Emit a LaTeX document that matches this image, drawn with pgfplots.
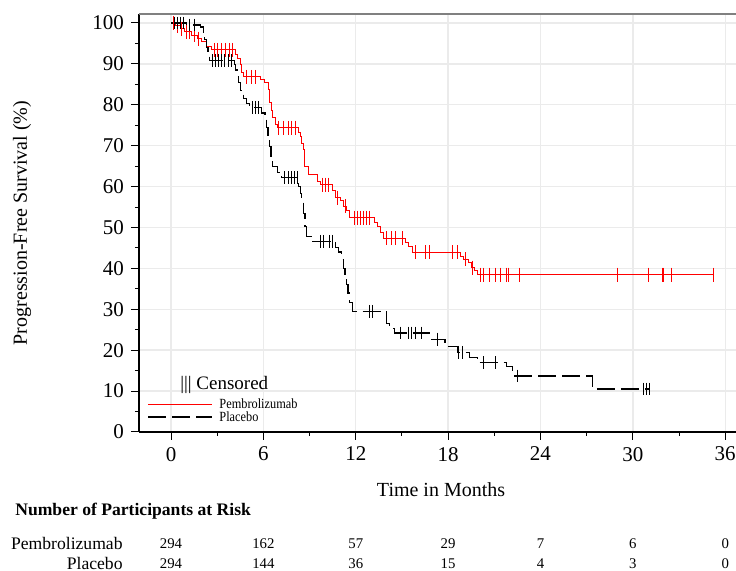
\documentclass[border=0pt]{standalone}
\usepackage{fontspec}
\setmainfont{Liberation Serif}
\usepackage{pgfplots}
\pgfplotsset{compat=1.18}

% Kaplan-Meier steps: (time, survival after the drop)
\pgfplotstableread{
t S
0 100
0.3 99.3
0.6 98.6
0.9 97.8
1.3 97.0
1.7 96.2
2.0 95.4
2.3 94.2
2.6 93.4
4.2 92.4
4.3 91.4
4.5 89.8
4.6 88.0
4.7 86.8
5.8 86.1
6.1 85.4
6.3 83.7
6.4 80.5
6.5 78.5
6.6 76.8
6.8 75.2
6.9 74.4
8.3 73.2
8.4 72.2
8.5 70.5
8.6 69.0
8.7 64.9
8.9 62.9
9.5 61.2
9.7 60.5
10.5 59.0
10.7 57.3
11.0 56.5
11.2 55.2
11.4 54.2
11.6 52.4
13.2 51.3
13.4 50.2
13.6 48.8
13.8 47.4
15.2 46.4
15.4 45.4
15.7 43.9
18.8 43.0
19.0 42.2
19.3 41.5
19.5 40.2
19.7 39.4
19.9 38.5
35.2 38.5
}\pembro

\pgfplotstableread{
t S
0 100
1.0 99.5
1.9 99.0
2.1 97.5
2.2 96.0
2.3 94.0
2.4 92.2
2.5 90.8
4.1 89.8
4.2 88.5
4.3 87.0
4.4 85.4
4.5 83.5
4.7 81.5
4.9 80.3
5.1 79.3
5.9 78.0
6.1 76.5
6.2 74.5
6.3 72.0
6.4 69.8
6.5 67.2
6.6 64.9
6.9 63.5
7.2 62.2
8.3 60.0
8.4 58.3
8.5 56.5
8.6 53.5
8.7 50.2
8.8 47.8
9.2 46.6
10.7 45.2
10.9 44.0
11.1 42.2
11.2 40.0
11.3 38.2
11.4 36.0
11.5 34.0
11.6 31.7
11.8 29.5
14.0 26.5
14.2 25.3
14.5 24.2
16.8 22.7
17.8 21.0
18.6 19.5
19.4 18.3
19.9 17.0
21.8 16.1
22.2 13.7
27.4 10.5
31.1 10.5
}\placebo

\begin{document}
\begin{tikzpicture}
\begin{axis}[
    name=ax,
    scale only axis, width=298.5pt, height=209pt,
    xmin=-2.08, xmax=36.7, ymin=0, ymax=102.2,
    axis x line*=bottom, axis y line*=left,
    xtick={0,6,...,36}, ytick={0,10,...,100},
    minor xtick={3,9,...,33}, minor ytick={5,15,...,95},
    tick align=outside, major tick length=4pt, minor tick length=2pt,
    tick style={black, line width=0.5pt},
    grid=major, major grid style={black!8, line width=0.7pt},
    axis line style={black, line width=0.6pt},
    /pgf/number format/assume math mode=true,
    tick label style={font=\fontsize{10.5}{12}\selectfont},
    xlabel={Time in Months},
    ylabel={Progression-Free Survival (\%)},
    label style={font=\fontsize{10}{12}\selectfont},
    xlabel style={at={(axis description cs:0.506,-0.139)}, anchor=center},
    ylabel style={at={(axis description cs:-0.196,0.5)}, anchor=center},
    clip=false,
]
\addplot[const plot, red, line width=0.5pt] table {\pembro};
\addplot[const plot, black, line width=0.6pt, dash pattern=on 9pt off 3pt] table {\placebo};

\addplot[only marks, mark=|, mark size=3.5pt, red, mark options={line width=0.35pt}] coordinates {
  (0.15,100) (0.4,99.3) (0.7,98.6) (1.0,97.8) (1.2,97.8) (1.5,97.0) (1.8,96.2)
  (2.8,93.4) (3.0,93.4) (3.3,93.4) (3.5,93.4) (3.8,93.4) (4.0,93.4)
  (4.9,86.8) (5.2,86.8) (5.5,86.8)
  (7.0,74.4) (7.3,74.4) (7.6,74.4) (7.8,74.4) (8.1,74.4)
  (9.8,60.5) (10.0,60.5) (10.2,60.5) (10.8,57.3) (11.3,55.2)
  (11.9,52.4) (12.1,52.4) (12.3,52.4) (12.5,52.4) (12.7,52.4) (12.9,52.4)
  (14.0,47.4) (14.3,47.4) (14.6,47.4) (15.0,47.4)
  (15.9,43.9) (16.5,43.9) (16.8,43.9) (18.3,43.9) (18.6,43.9)
  (19.1,42.2) (19.6,40.2)
  (20.1,38.5) (20.3,38.5) (20.7,38.5) (21.1,38.5) (21.4,38.5) (21.8,38.5) (21.9,38.5) (22.6,38.5)
  (29.0,38.5) (31.0,38.5) (31.9,38.5) (32.0,38.5) (32.5,38.5) (35.2,38.5)
};
\addplot[only marks, mark=|, mark size=3.2pt, black, mark options={line width=0.45pt}] coordinates {
  (0.2,100) (0.4,100) (0.6,100) (0.8,100) (1.2,99.5) (1.5,99.5)
  (2.7,90.8) (2.9,90.8) (3.1,90.8) (3.3,90.8) (3.5,90.8) (3.7,90.8) (3.9,90.8)
  (5.3,79.3) (5.5,79.3) (5.7,79.3)
  (7.4,62.2) (7.6,62.2) (7.8,62.2) (8.0,62.2) (8.2,62.2)
  (9.7,46.6) (9.9,46.6) (10.3,46.6) (10.5,46.6)
  (12.9,29.5) (13.1,29.5)
  (14.9,24.2) (15.4,24.2) (15.6,24.2) (15.9,24.2) (16.3,24.2)
  (17.3,22.7) (18.7,19.5) (18.9,19.5) (20.3,17.0) (21.1,17.0) (22.5,13.7)
  (30.7,10.5) (30.9,10.5) (31.1,10.5)
};

% top frame line
\draw[black!50, line width=1pt] (rel axis cs:0,1) -- (rel axis cs:1,1);

% legend
\node[anchor=west, inner sep=0pt, font=\fontsize{9.5}{12}\selectfont] at (axis cs:0.58,11.6) {||| Censored};
\draw[red, line width=0.5pt] (axis cs:-1.49,6.8) -- (axis cs:2.66,6.8);
\draw[black, line width=0.6pt, dash pattern=on 9pt off 3pt] (axis cs:-1.49,3.66) -- (axis cs:2.66,3.66);
\node[anchor=west, inner sep=0pt, font=\fontsize{7}{8}\selectfont] at (axis cs:3.12,7.0) {\scalebox{0.88}[1]{Pembrolizumab}};
\node[anchor=west, inner sep=0pt, font=\fontsize{7}{8}\selectfont] at (axis cs:3.12,3.8) {\scalebox{0.88}[1]{Placebo}};

% number at risk
\node[anchor=west, inner sep=0pt, font=\fontsize{8.8}{10}\selectfont\bfseries] at (axis cs:-10.14,-19.3) {Number of Participants at Risk};
\begin{scope}[every node/.style={inner sep=0pt, font=\fontsize{7.4}{9}\selectfont}]
\node[anchor=east, font=\fontsize{8.8}{10}\selectfont] at (axis cs:-3.12,-27.3) {Pembrolizumab};
\node[anchor=east, font=\fontsize{8.8}{10}\selectfont] at (axis cs:-3.12,-32.2) {Placebo};
\node at (axis cs:0,-27.3) {294};
\node at (axis cs:6,-27.3) {162};
\node at (axis cs:12,-27.3) {57};
\node at (axis cs:18,-27.3) {29};
\node at (axis cs:24,-27.3) {7};
\node at (axis cs:30,-27.3) {6};
\node at (axis cs:36,-27.3) {0};
\node at (axis cs:0,-32.2) {294};
\node at (axis cs:6,-32.2) {144};
\node at (axis cs:12,-32.2) {36};
\node at (axis cs:18,-32.2) {15};
\node at (axis cs:24,-32.2) {4};
\node at (axis cs:30,-32.2) {3};
\node at (axis cs:36,-32.2) {0};
\end{scope}
\end{axis}

% page extent
\pgfresetboundingbox
\path ([xshift=-69.5pt,yshift=-69.5pt]ax.south west) rectangle ([yshift=7pt]ax.north east);
\end{tikzpicture}
\end{document}
